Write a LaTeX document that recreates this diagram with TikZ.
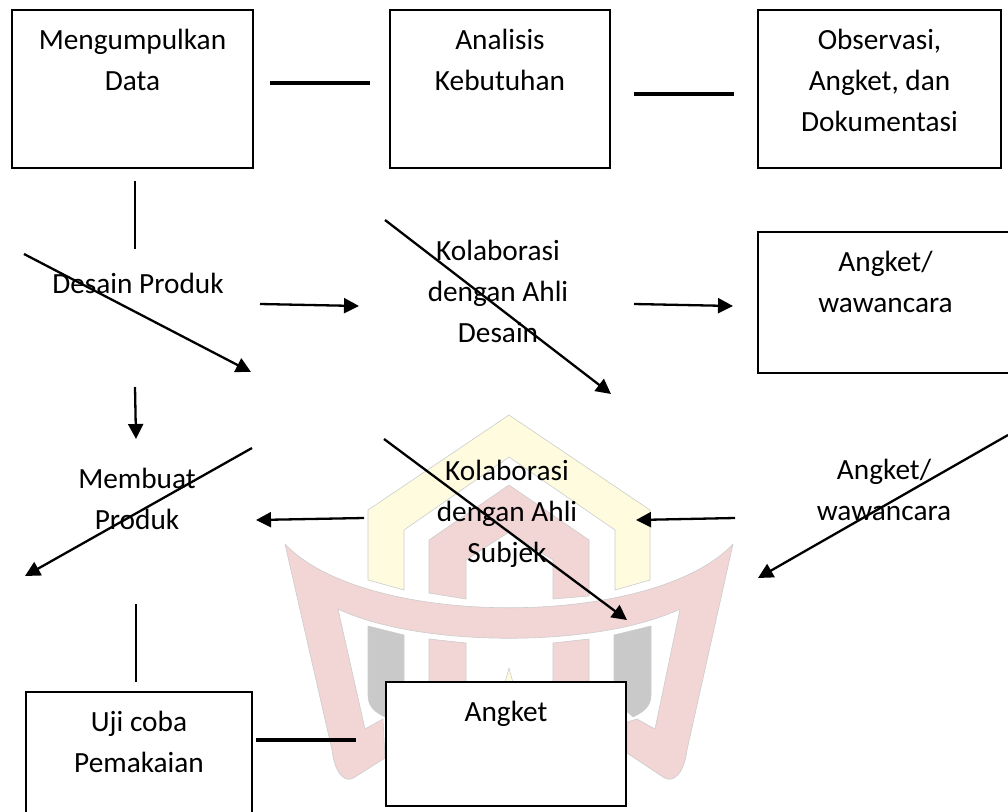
\documentclass[tikz,border=0pt]{standalone}
\usepackage{fontspec}
\setmainfont{Carlito}
\usetikzlibrary{arrows.meta}

\definecolor{logored}{HTML}{F2D5D5}
\definecolor{logoyellow}{HTML}{FEFBDF}
\definecolor{logogray}{HTML}{C9C9C9}
\tikzset{
  flowbox/.style={draw, line width=2pt, fill=white, anchor=north west, align=center, inner sep=0pt},
  flowtext/.style={align=center, inner sep=0pt, anchor=base},
  thinline/.style={line width=2.3pt},
  thickline/.style={line width=4pt},
  flowarrow/.style={line width=2.3pt, -{Triangle[length=15pt,width=15pt]}},
  logopart/.style={draw=black!20, line width=0.6pt, line join=round}
}

\begin{document}
\begin{tikzpicture}[x=1pt, y=-1pt, font=\fontsize{29.3}{41}\selectfont]
    \useasboundingbox (0, 0) rectangle (1008, 811);
    \clip (0, 0) rectangle (1008, 811);

    % logo behind the chart
    \draw[logopart, fill=logoyellow] (509, 415) -- (650, 510) -- (650, 580) -- (615, 590) -- (615, 530)
        -- (509, 457) -- (404, 530) -- (404, 590) -- (368, 580) -- (368, 510) -- cycle;
    \draw[logopart, fill=logored] (509, 485) -- (589, 540) -- (589, 596) -- (553, 599) -- (553, 560)
        -- (509, 532) -- (466, 560) -- (466, 599) -- (429, 593) -- (429, 540) -- cycle;
    \draw[logopart, fill=logored] (285, 544) .. controls (365, 629) and (653, 629) .. (733, 544)
        -- (687, 750) .. controls (684, 775) and (672, 784) .. (663, 777) -- (627, 753) -- (627, 722)
        -- (637, 719) -- (655, 729) -- (680, 609) .. controls (598, 648) and (420, 648) .. (338, 609)
        -- (365, 729) -- (383, 719) -- (385, 758) -- (355, 777) .. controls (346, 784) and (335, 775) .. (332, 750) -- cycle;
    \draw[logopart, fill=logogray] (368, 626) -- (404, 635) -- (404, 700) -- (385, 717) .. controls (375, 712) and (368, 707) .. (368, 695) -- cycle;
    \draw[logopart, fill=logogray] (651, 626) -- (614, 635) -- (614, 700) -- (633, 717) .. controls (643, 712) and (651, 707) .. (651, 695) -- cycle;
    \draw[logopart, fill=logored] (429, 639) -- (466, 643) -- (466, 690) -- (429, 690) -- cycle;
    \draw[logopart, fill=logored] (589, 639) -- (553, 643) -- (553, 690) -- (589, 690) -- cycle;
    \draw[logopart, fill=logoyellow] (509, 668) -- (503, 690) -- (515, 690) -- cycle;

    \node[flowbox, minimum width=241pt, minimum height=158pt, text height=80pt, text depth=78pt] (data) at (11, 9) {Mengumpulkan\\Data};
    \node[flowbox, minimum width=220pt, minimum height=158pt, text height=80pt, text depth=78pt] (kebutuhan) at (389, 9) {Analisis\\Kebutuhan};
    \node[flowbox, minimum width=243pt, minimum height=158pt, text height=121pt, text depth=37pt] (observasi) at (757, 9) {Observasi,\\Angket, dan\\Dokumentasi};
    \node[flowbox, minimum width=255pt, minimum height=141pt, text height=80pt, text depth=61pt] (angketsatu) at (757, 231) {Angket/\\wawancara};
    \node[flowbox, minimum width=226pt, minimum height=140pt, text height=80pt, text depth=60pt] (ujicoba) at (25, 691) {Uji coba\\Pemakaian};
    \node[flowbox, minimum width=240pt, minimum height=124pt, text height=39pt, text depth=85pt] (angkettiga) at (385, 681) {Angket};

    \node[flowtext] (desain) at (138, 293) {Desain Produk};
    \node[flowtext] (ahlidesain) at (498, 342) {Kolaborasi\\dengan Ahli\\Desain};
    \node[flowtext] (produk) at (137, 529) {Membuat\\Produk};
    \node[flowtext] (ahlisubjek) at (507, 562) {Kolaborasi\\dengan Ahli\\Subjek};
    \node[flowtext] (angketdua) at (884, 520) {Angket/\\wawancara};

    \coordinate (a1) at (270, 83);   \coordinate (a2) at (370, 83);
    \coordinate (b1) at (634, 94);   \coordinate (b2) at (734, 94);
    \coordinate (c1) at (135, 181);  \coordinate (c2) at (135, 249);
    \coordinate (d1) at (24, 254);   \coordinate (d2) at (251, 372);
    \coordinate (e1) at (260, 304);  \coordinate (e2) at (359, 306);
    \coordinate (f1) at (634, 304);  \coordinate (f2) at (733, 306);
    \coordinate (g1) at (385, 220);  \coordinate (g2) at (611, 394);
    \coordinate (h1) at (135, 387);  \coordinate (h2) at (136, 439);
    \coordinate (i1) at (252, 448);  \coordinate (i2) at (25, 576);
    \coordinate (j1) at (364, 518);  \coordinate (j2) at (256, 520);
    \coordinate (k1) at (384, 439);  \coordinate (k2) at (627, 620);
    \coordinate (l1) at (735, 518);  \coordinate (l2) at (636, 520);
    \coordinate (m1) at (1008, 435); \coordinate (m2) at (758, 578);
    \coordinate (n1) at (136, 604);  \coordinate (n2) at (136, 682);
    \coordinate (o1) at (256, 740);  \coordinate (o2) at (356, 740);

    \draw[thickline] (a1) -- (a2);
    \draw[thickline] (b1) -- (b2);
    \draw[thinline] (c1) -- (c2);
    \draw[flowarrow] (d1) -- (d2);
    \draw[flowarrow] (e1) -- (e2);
    \draw[flowarrow] (f1) -- (f2);
    \draw[flowarrow] (g1) -- (g2);
    \draw[flowarrow] (h1) -- (h2);
    \draw[flowarrow] (i1) -- (i2);
    \draw[flowarrow] (j1) -- (j2);
    \draw[flowarrow] (k1) -- (k2);
    \draw[flowarrow] (l1) -- (l2);
    \draw[flowarrow] (m1) -- (m2);
    \draw[thinline] (n1) -- (n2);
    \draw[thickline] (o1) -- (o2);
\end{tikzpicture}
\end{document}
